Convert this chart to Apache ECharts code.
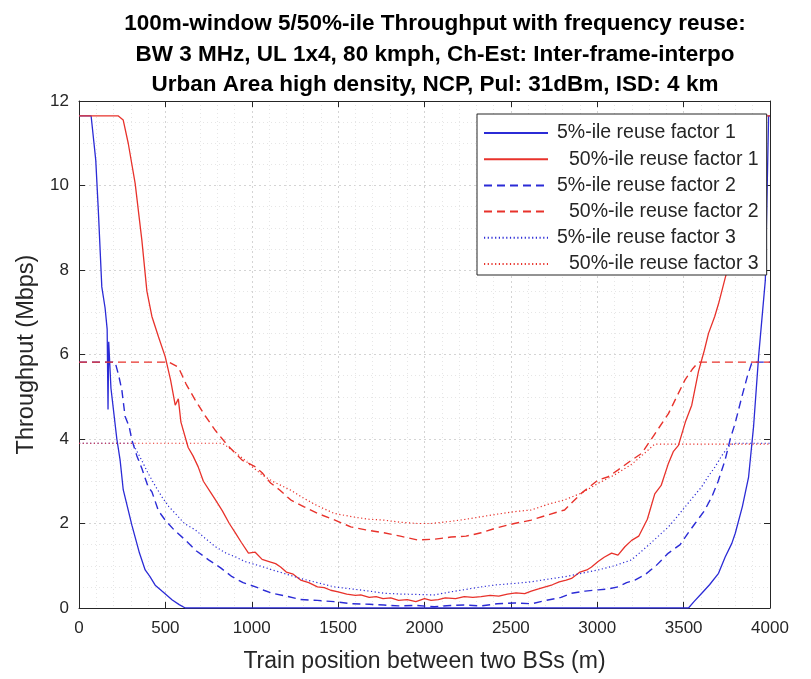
<!DOCTYPE html>
<html>
<head>
<meta charset="utf-8">
<script src="https://cdn.jsdelivr.net/npm/echarts@6/dist/echarts.min.js"></script>
<style>
html,body{margin:0;padding:0;background:#fff;}
#chart{width:811px;height:679px;}
</style>
</head>
<body>
<div id="chart"></div>
<script>
// ---- Data ----
const titleLines = [
  "100m-window 5/50%-ile Throughput with frequency reuse:",
  "BW 3 MHz, UL 1x4, 80 kmph, Ch-Est: Inter-frame-interpo",
  "Urban Area high density, NCP, Pul: 31dBm, ISD: 4 km"
];
const xName = "Train position between two BSs (m)";
const yName = "Throughput (Mbps)";
const seriesNames = [
  "5%-ile reuse factor 1",
  "50%-ile reuse factor 1",
  "5%-ile reuse factor 2",
  "50%-ile reuse factor 2",
  "5%-ile reuse factor 3",
  "50%-ile reuse factor 3"
];

// 5%-ile reuse factor 1
const s1x = [0,70,97,112,132,151,163,168,172,185,219,238,256,280,306,330,350,383,410,441,480,540,580,615,
  1000,2000,3000,3528,3560,3605,3650,3702,3740,3779,3799,3840,3876,3905,3934,3973,3992,4000];
const s1y = [11.65,11.65,10.6,9.4,7.6,7.1,6.6,4.7,6.3,5.2,4.0,3.5,2.8,2.4,1.96,1.6,1.3,0.9,0.75,0.54,0.4,0.19,0.08,0,
  0,0,0,0,0.15,0.35,0.55,0.82,1.2,1.53,1.77,2.4,3.1,4.3,5.95,7.76,11.65,11.65];

// 50%-ile reuse factor 1
const s2x = [0,226,256,285,325,364,393,422,460,499,530,557,575,590,632,660,690,720,760,790,830,870,906,940,981,1020,1060,1100,1138,1167,1200,1240,1283,1330,1380,1420,1457,1500,1550,1600,1631,1680,1720,1760,1805,1850,1900,1950,2000,2038,2080,2120,2180,2230,2280,2328,2380,2430,2480,2530,2580,2618,2660,2700,2740,2780,2820,2851,2900,2940,2967,3005,3040,3083,3120,3160,3199,3240,3290,3333,3370,3410,3440,3470,3510,3547,3586,3620,3644,3680,3702,3740,3800,3860,3910,3950,4000];
const s2y = [11.65,11.65,11.55,11.0,10.05,8.7,7.5,6.9,6.42,5.95,5.4,4.8,4.95,4.4,3.8,3.6,3.34,3.0,2.75,2.56,2.3,2.0,1.77,1.55,1.3,1.32,1.15,1.1,1.05,0.97,0.85,0.8,0.66,0.6,0.5,0.48,0.42,0.38,0.33,0.3,0.31,0.25,0.27,0.22,0.24,0.18,0.2,0.15,0.22,0.18,0.2,0.24,0.22,0.27,0.25,0.27,0.3,0.28,0.33,0.36,0.34,0.4,0.45,0.5,0.55,0.62,0.66,0.7,0.85,0.9,0.97,1.1,1.2,1.3,1.25,1.45,1.6,1.7,2.1,2.7,2.9,3.4,3.7,3.85,4.4,4.8,5.6,6.1,6.5,6.9,7.2,7.8,8.7,9.8,10.9,11.65,11.65];

// 5%-ile reuse factor 2
const s3x = [0,209,230,248,267,290,306,335,364,400,422,460,499,550,615,680,750,820,886,950,1022,1070,1118,1200,1283,1380,1477,1580,1680,1765,1850,1950,2057,2150,2230,2330,2420,2520,2620,2715,2790,2851,2930,3005,3060,3121,3170,3218,3280,3340,3412,3480,3530,3566,3620,3663,3700,3740,3770,3798,3837,3870,3896,4000];
const s3y = [5.82,5.82,5.5,5.16,4.53,4.3,3.98,3.6,3.3,2.87,2.75,2.3,2.08,1.85,1.61,1.35,1.14,0.95,0.74,0.6,0.5,0.42,0.35,0.28,0.2,0.18,0.15,0.1,0.09,0.07,0.05,0.06,0.03,0.06,0.07,0.05,0.1,0.12,0.1,0.19,0.25,0.35,0.4,0.43,0.45,0.5,0.6,0.66,0.8,1.0,1.3,1.5,1.8,2.0,2.3,2.63,3.0,3.5,4.0,4.37,5.0,5.5,5.82,5.82];

// 50%-ile reuse factor 2
const s4x = [0,520,575,620,673,730,790,860,944,1022,1060,1109,1160,1225,1300,1380,1470,1573,1660,1765,1860,1960,2060,2154,2240,2328,2420,2520,2618,2711,2811,2909,3005,3060,3121,3199,3257,3330,3412,3460,3508,3550,3586,4000];
const s4y = [5.82,5.82,5.7,5.3,4.92,4.55,4.2,3.85,3.5,3.34,3.2,2.96,2.8,2.56,2.4,2.24,2.1,1.92,1.85,1.78,1.7,1.61,1.63,1.68,1.7,1.78,1.9,2.0,2.08,2.2,2.32,2.72,3.03,3.1,3.27,3.5,3.66,4.1,4.6,5.0,5.4,5.65,5.82,5.82];

// 5%-ile reuse factor 3
const s5x = [0,310,350,400,440,480,520,557,610,673,730,790,850,906,960,1060,1120,1186,1280,1380,1477,1580,1680,1765,1860,1960,2057,2150,2240,2328,2420,2520,2618,2711,2811,2909,3005,3100,3199,3300,3412,3460,3508,3560,3605,3640,3682,3720,3760,3790,4000];
const s5y = [3.9,3.9,3.6,3.19,2.9,2.63,2.4,2.24,2.0,1.85,1.65,1.45,1.3,1.21,1.1,0.98,0.9,0.82,0.7,0.6,0.5,0.45,0.4,0.35,0.33,0.32,0.31,0.38,0.44,0.5,0.55,0.58,0.62,0.68,0.74,0.82,0.9,1.0,1.14,1.5,1.92,2.15,2.39,2.65,2.87,3.1,3.34,3.6,3.82,3.9,3.9];

// 50%-ile reuse factor 3
const s6x = [0,830,900,960,1000,1060,1120,1225,1300,1380,1477,1580,1680,1765,1860,1960,2038,2150,2240,2328,2420,2520,2618,2711,2811,2909,3005,3100,3199,3270,3333,4000];
const s6y = [3.9,3.9,3.7,3.5,3.35,3.15,3.0,2.79,2.6,2.42,2.24,2.16,2.1,2.08,2.03,2.0,2.0,2.05,2.1,2.16,2.22,2.28,2.32,2.45,2.56,2.72,2.95,3.15,3.4,3.65,3.88,3.88];

const xTicks = {min:0, max:4000, step:500};
const yTicks = {min:0, max:12, step:2};

// ---- Chart ----
const BLUE = '#2b2bd6', RED = '#e8322b';
function zip(xs, ys){ return xs.map((x,i)=>[x, ys[i]]); }
const seriesData = [zip(s1x,s1y), zip(s2x,s2y), zip(s3x,s3y), zip(s4x,s4y), zip(s5x,s5y), zip(s6x,s6y)];
const styles = [
  {color:BLUE, type:'solid', width:1.3},
  {color:RED, type:'solid', width:1.3},
  {color:BLUE, type:[8,5], width:1.4},
  {color:RED, type:[8,5], width:1.4},
  {color:BLUE, type:[1.2,2.5], width:1.2},
  {color:RED, type:[1.2,2.5], width:1.2}
];

const chart = echarts.init(document.getElementById('chart'), null, {renderer:'canvas'});
const FONT = 'Liberation Sans, Arial, sans-serif';
const axisCol = '#262626';

const xAxisBase = {
  type:'value', min:xTicks.min, max:xTicks.max, interval:xTicks.step,
  axisLine:{show:true, onZero:false, lineStyle:{color:axisCol, width:1}},
  axisTick:{show:true, inside:true, length:6, lineStyle:{color:axisCol}},
  minorTick:{show:false, splitNumber:5},
};
const yAxisBase = {
  type:'value', min:yTicks.min, max:yTicks.max, interval:yTicks.step,
  axisLine:{show:true, onZero:false, lineStyle:{color:axisCol, width:1}},
  axisTick:{show:true, inside:true, length:6, lineStyle:{color:axisCol}},
  minorTick:{show:false, splitNumber:4},
};

chart.setOption({
  animation:false,
  backgroundColor:'#fff',
  title:{
    text: titleLines.join('\n'),
    left: 430, textAlign:'center', top: 4,
    textStyle:{fontFamily:FONT, fontSize:22.5, fontWeight:'bold', color:'#000', lineHeight:30.5}
  },
  legend:{
    orient:'vertical', left:477, top:114,
    backgroundColor:'#fff', borderColor:axisCol, borderWidth:1,
    padding:[9,8,1,6], itemGap:6.2, itemWidth:64, itemHeight:16,
    itemStyle:{opacity:0},
    textStyle:{fontFamily:FONT, fontSize:19.5, color:'#262626',
      rich:{
        a:{fontFamily:FONT, fontSize:19.5, color:'#262626', padding:[0,0,0,4]},
        b:{fontFamily:FONT, fontSize:19.5, color:'#262626', padding:[0,0,0,16]}
      }},
    formatter: function(n){ return (n.indexOf('50%') === 0 ? '{b|' : '{a|') + n + '}'; },
    data: seriesNames
  },
  grid:{left:79, right:41, top:101, bottom:71, show:false},
  xAxis:[
    Object.assign({}, xAxisBase, {
      position:'bottom',
      name:xName, nameLocation:'middle', nameGap:42,
      nameTextStyle:{fontFamily:FONT, fontSize:23, color:'#262626'},
      axisLabel:{show:true, margin:12, fontFamily:FONT, fontSize:17, color:'#262626',
        formatter: v => String(v)},
      splitLine:{show:true, lineStyle:{color:'#d4d4d4', type:[2,3], width:1}},
      minorSplitLine:{show:true, lineStyle:{color:'#e6e6e6', type:[1,3], width:1}}
    }),
    Object.assign({}, xAxisBase, {
      position:'top', axisLabel:{show:false}, splitLine:{show:false}
    })
  ],
  yAxis:[
    Object.assign({}, yAxisBase, {
      position:'left',
      name:yName, nameLocation:'middle', nameGap:40,
      nameTextStyle:{fontFamily:FONT, fontSize:23.5, color:'#262626'},
      axisLabel:{show:true, margin:10, fontFamily:FONT, fontSize:17, color:'#262626',
        formatter: v => String(v)},
      splitLine:{show:true, lineStyle:{color:'#d4d4d4', type:[2,3], width:1}},
      minorSplitLine:{show:true, lineStyle:{color:'#e6e6e6', type:[1,3], width:1}}
    }),
    Object.assign({}, yAxisBase, {
      position:'right', axisLabel:{show:false}, splitLine:{show:false}
    })
  ],
  series: seriesNames.map((n,i)=>({
    name:n, type:'line', xAxisIndex:0, yAxisIndex:0,
    data: seriesData[i], symbol:'none', smooth:false,
    lineStyle: styles[i], itemStyle:{color:styles[i].color},
    z: 2+i
  }))
});
</script>
</body>
</html>
